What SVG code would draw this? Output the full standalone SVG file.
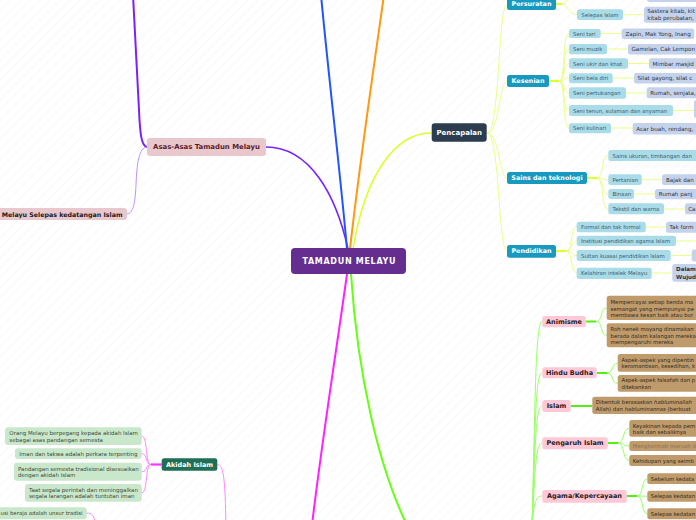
<svg xmlns="http://www.w3.org/2000/svg" width="696" height="520" viewBox="0 0 696 520">
<defs>
<pattern id="bg" width="7" height="7" patternUnits="userSpaceOnUse" patternTransform="rotate(45)">
<line x1="0" y1="0" x2="0" y2="7" stroke="#f1f1f1" stroke-width="1"/>
</pattern>
<style>
text{font-family:"DejaVu Sans",Verdana,sans-serif;dominant-baseline:central}
.b{font-weight:bold}
.c{text-anchor:middle}
.e{text-anchor:end}
.root{fill:#662d91}
.roott{fill:#fff;font-size:8px;font-weight:bold;letter-spacing:.7px}
.asas{fill:#e8c8cc}
.asast{fill:#5c1b2b;font-size:6.9px;font-weight:bold}
.pen{fill:#2b3d4f}
.whitet{fill:#fff;font-size:7px;font-weight:bold}
.teal{fill:#1799c0}
.tealt{fill:#fff;font-size:6.4px;font-weight:bold}
.lb{fill:#a9dbe9}
.lbt{fill:#3e5c6a;font-size:5.4px}
.lv{fill:#c4d2ec}
.lvt{fill:#2d3340;font-size:5.6px}
.pk{fill:#ffc8d6}
.pkt{fill:#2a1a20;font-size:6.5px;font-weight:bold}
.br{fill:#bf9b6b}
.brt{fill:#33291c;font-size:5.35px}
.ak{fill:#1f6e55}
.gr{fill:#c9e7cb}
.grt{fill:#3a4a3a;font-size:5.5px}
.y{fill:none;stroke:#e6ff7a;stroke-width:.9}
.ys{fill:none;stroke:#ddff33;stroke-width:2.2}
.g{fill:none;stroke:#99ff66;stroke-width:1}
.gs{fill:none;stroke:#55ee11;stroke-width:2}
.m{fill:none;stroke:#ff88ff;stroke-width:1}
.ms{fill:none;stroke:#ff33ff;stroke-width:2.2}
</style>
</defs>
<rect x="0" y="0" width="696" height="520" fill="#fff"/>
<rect x="0" y="0" width="696" height="520" fill="url(#bg)"/>

<g id="connectors">
<path d="M348,249 C 336,195 310,147 266,147" fill="none" stroke="#7722ff" stroke-width="1.6"/>
<path d="M147,147 C 141,146 140,132 139,110 C 137,70 135,30 133,-5" fill="none" stroke="#7722ff" stroke-width="2"/>
<path d="M147,147 C 139,148 137,162 136,185 C 135,205 133,213 127,214" fill="none" stroke="#b088ff" stroke-width="0.9"/>
<path d="M347,249 C 340,170 330,90 321,-5" fill="none" stroke="#2255ff" stroke-width="2"/>
<path d="M350,249 C 360,160 372,80 384,-5" fill="none" stroke="#ff9911" stroke-width="2"/>
<path d="M353,249 C 365,175 395,133 431,133" fill="none" stroke="#ddff22" stroke-width="1.5"/>
<path d="M347,274 C 335,360 322,440 312,525" fill="none" stroke="#ff22ff" stroke-width="2"/>
<path d="M351,274 C 358,380 380,470 407,525" fill="none" stroke="#66ff11" stroke-width="2"/>

<path class="y" d="M487,133 C 500,133 498,4 507,4"/>
<path class="y" d="M487,133 C 500,133 499,81 507,81"/>
<path class="y" d="M487,133 C 500,133 499,178 507,178"/>
<path class="y" d="M487,133 C 500,133 498,251 507,251"/>
<path class="ys" d="M556,4 L562,4"/>
<path class="y" d="M562,4 C 568,4 567,-4 568,-10"/>
<path class="y" d="M562,4 C 568,4 568,14.7 577,14.7"/>
<path class="y" d="M623,14.7 L644,14.7"/>
<path class="ys" d="M549,81 L559,81"/>
<path class="y" d="M559,81 C 566,81 562,33.5 569,33.5"/>
<path class="y" d="M559,81 C 566,81 562,49 569,49"/>
<path class="y" d="M559,81 C 566,81 562,63.5 569,63.5"/>
<path class="y" d="M559,81 C 566,81 562,78 569,78"/>
<path class="y" d="M559,81 C 566,81 562,93 569,93"/>
<path class="y" d="M559,81 C 566,81 562,110.5 569,110.5"/>
<path class="y" d="M559,81 C 566,81 562,128 569,128"/>
<path class="y" d="M600.7,33.5 L621.7,33.5 M607,49 L628,49 M628,63.5 L649,63.5 M612.7,78 L634,78 M626,93 L646.7,93 M673,110.5 L694,110.5 M611,128 L632.7,128"/>
<path class="ys" d="M587,178 L597,178"/>
<path class="y" d="M597,178 C 604,178 601,155.5 608,155.5"/>
<path class="y" d="M597,178 C 604,178 601,179.7 608,179.7"/>
<path class="y" d="M597,178 C 604,178 601,194 608,194"/>
<path class="y" d="M597,178 C 604,178 601,209 608,209"/>
<path class="y" d="M641.7,179.7 L662,179.7 M634,194 L655,194 M664,209 L685,209"/>
<path class="ys" d="M556,251 L566,251"/>
<path class="y" d="M566,251 C 573,251 570,227 577,227"/>
<path class="y" d="M566,251 C 573,251 570,241 577,241"/>
<path class="y" d="M566,251 C 573,251 570,255.5 577,255.5"/>
<path class="y" d="M566,251 C 573,251 570,273 577,273"/>
<path class="y" d="M645.7,227 L666,227 M676,241 L696,241 M670.7,255.5 L691.7,255.5 M651.7,273 L672.3,273"/>

<path class="g" d="M532,525 C 535,420 535,321.5 542,321.5"/>
<path class="g" d="M532,525 C 535,440 535,373 542,373"/>
<path class="g" d="M532,525 C 535,460 535,406 542,406"/>
<path class="g" d="M532,525 C 535,480 535,443 542,443"/>
<path class="g" d="M532,525 C 534,505 535,496 542,496"/>
<path class="gs" d="M585.7,321.5 L596,321.5"/>
<path class="g" d="M596,321.5 C 603,321.5 600,308 606.7,308"/>
<path class="g" d="M596,321.5 C 603,321.5 600,335.3 606.7,335.3"/>
<path class="gs" d="M596.7,373 L607,373"/>
<path class="g" d="M607,373 C 614,373 611,363 617.7,363"/>
<path class="g" d="M607,373 C 614,373 611,383.3 617.7,383.3"/>
<path class="gs" d="M570.7,406 L592.3,406"/>
<path class="gs" d="M607.7,443 L618,443"/>
<path class="g" d="M618,443 C 625,443 622,428.3 629.3,428.3"/>
<path class="g" d="M618,443 C 625,443 622,446 629.3,446"/>
<path class="g" d="M618,443 C 625,443 622,460.5 629.3,460.5"/>
<path class="gs" d="M626.7,496 L637,496"/>
<path class="g" d="M637,496 C 644,496 641,478.7 647.3,478.7"/>
<path class="g" d="M637,496 C 644,496 641,496.2 647.3,496.2"/>
<path class="g" d="M637,496 C 644,496 641,513.8 647.3,513.8"/>

<path class="m" d="M217.3,464.5 C 224,464.5 225,480 226,525"/>
<path class="ms" d="M161.7,464.5 L151,464.5"/>
<path class="m" d="M151,464.5 C 145,464.5 148,436 141.7,436"/>
<path class="m" d="M151,464.5 C 145,464.5 148,453.7 141.7,453.7"/>
<path class="m" d="M151,464.5 C 145,464.5 148,471.7 141.7,471.7"/>
<path class="m" d="M151,464.5 C 145,464.5 148,492.8 141.7,492.8"/>
<path class="m" d="M86.7,513 C 92,513 94,516 96,524"/>
</g>

<g id="root"><rect class="root" x="291" y="248" width="115" height="26" rx="4"/><text class="roott c" x="349.3" y="261.5">TAMADUN MELAYU</text></g>

<g id="asas"><rect class="asas" x="147" y="138" width="119" height="18" rx="3"/><text class="asast c" x="206.5" y="147">Asas-Asas Tamadun Melayu</text></g>
<g id="selepas-islam-melayu"><rect class="asas" x="-10" y="208" width="137" height="12" rx="3"/><text class="e b" style="font-size:6.3px;fill:#231a1c" x="122.5" y="214">Melayu Selepas kedatangan Islam</text></g>

<g id="pencapalan"><rect class="pen" x="431.7" y="123.3" width="55" height="18.4" rx="3"/><text class="whitet c" x="459.2" y="132.5">Pencapalan</text></g>

<g id="persuratan"><rect class="teal" x="507" y="-2" width="49" height="12" rx="2.5"/><text class="tealt c" x="531.5" y="3.5">Persuratan</text></g>
<g id="p-top"><rect class="lv" x="647" y="-14" width="60" height="16" rx="2.5"/></g>
<g id="selepas-islam"><rect class="lb" x="577" y="9.3" width="46" height="10.8" rx="2.5"/><text class="lbt c" x="600" y="14.7">Selepas Islam</text></g>
<g id="sastera"><rect class="lv" x="644" y="6.7" width="70" height="16" rx="2.5"/><text class="lvt" x="647.3" y="11">Sastera kitab, kit</text><text class="lvt" x="647.3" y="18.3">kitab perubatan,</text></g>

<g id="kesenian"><rect class="teal" x="507" y="75" width="42" height="12" rx="2.5"/><text class="tealt c" x="528" y="81">Kesenian</text></g>
<g id="seni-tari"><rect class="lb" x="569" y="29" width="31.7" height="9" rx="2.5"/><text class="lbt" x="573" y="33.5">Seni tari</text></g>
<g id="zapin"><rect class="lv" x="621.7" y="28.5" width="72.6" height="10.5" rx="2.5"/><text class="lvt" x="625.5" y="33.7">Zapin, Mak Yong, Inang</text></g>
<g id="seni-muzik"><rect class="lb" x="569" y="44" width="38" height="10.3" rx="2.5"/><text class="lbt" x="573" y="49.2">Seni muzik</text></g>
<g id="gamelan"><rect class="lv" x="628" y="44" width="80" height="10.5" rx="2.5"/><text class="lvt" x="631.5" y="49.2">Gamelan, Cak Lempon</text></g>
<g id="seni-ukir"><rect class="lb" x="569" y="58.3" width="59" height="10.4" rx="2.5"/><text class="lbt" x="573" y="63.5">Seni ukir dan khat</text></g>
<g id="mimbar"><rect class="lv" x="649" y="58.3" width="60" height="10.5" rx="2.5"/><text class="lvt" x="652.5" y="63.5">Mimbar masjid</text></g>
<g id="seni-bela"><rect class="lb" x="569" y="73.3" width="43.7" height="10" rx="2.5"/><text class="lbt" x="573" y="78.3">Seni bela diri</text></g>
<g id="silat"><rect class="lv" x="634" y="73" width="70" height="10.5" rx="2.5"/><text class="lvt" x="637.5" y="78.3">Silat gayong, silat c</text></g>
<g id="seni-pertukangan"><rect class="lb" x="569" y="87.3" width="57" height="11.4" rx="2.5"/><text class="lbt" x="573" y="93">Seni pertukangan</text></g>
<g id="rumah"><rect class="lv" x="646.7" y="87.3" width="60" height="11" rx="2.5"/><text class="lvt" x="650.3" y="92.8">Rumah, senjata,</text></g>
<g id="seni-tenun"><rect class="lb" x="569" y="105" width="104" height="11" rx="2.5"/><text class="lbt" x="573" y="110.5">Seni tenun, sulaman dan anyaman</text></g>
<g id="tenun-leaf"><rect class="lv" x="694" y="100" width="20" height="18" rx="2.5"/></g>
<g id="seni-kulinari"><rect class="lb" x="569" y="123.3" width="42" height="10" rx="2.5"/><text class="lbt" x="573" y="128.3">Seni kulinari</text></g>
<g id="acar"><rect class="lv" x="632.7" y="123" width="75" height="11.5" rx="2.5"/><text class="lvt" x="636.3" y="128.7">Acar buah, rendang,</text></g>

<g id="sains"><rect class="teal" x="507" y="172" width="80" height="12" rx="2.5"/><text class="tealt c" x="547" y="178">Sains dan teknologi</text></g>
<g id="sains-ukuran"><rect class="lb" x="608.3" y="150" width="100" height="11" rx="2.5"/><text class="lbt" x="612.5" y="155.5">Sains ukuran, timbangan dan</text></g>
<g id="pertanian"><rect class="lb" x="608.3" y="174.3" width="33.4" height="10.7" rx="2.5"/><text class="lbt" x="612.5" y="179.7">Pertanian</text></g>
<g id="bajak"><rect class="lv" x="662" y="174.3" width="50" height="10.7" rx="2.5"/><text class="lvt" x="666" y="179.7">Bajak dan</text></g>
<g id="binaan"><rect class="lb" x="608.3" y="189" width="25.7" height="10" rx="2.5"/><text class="lbt" x="612.5" y="194">Binaan</text></g>
<g id="rumah-panjang"><rect class="lv" x="655" y="189" width="50" height="10.3" rx="2.5"/><text class="lvt" x="658.8" y="194.2">Rumah panj</text></g>
<g id="tekstil"><rect class="lb" x="608.3" y="203.3" width="55.7" height="11" rx="2.5"/><text class="lbt" x="612.5" y="208.8">Tekstil dan warna</text></g>
<g id="ca"><rect class="lv" x="685" y="203.3" width="25" height="11" rx="2.5"/><text class="lvt" x="688.2" y="208.8">Ca</text></g>

<g id="pendidikan"><rect class="teal" x="507" y="245" width="49" height="12.7" rx="2.5"/><text class="tealt c" x="531.5" y="251.3">Pendidikan</text></g>
<g id="formal"><rect class="lb" x="576.7" y="221.7" width="69" height="10.6" rx="2.5"/><text class="lbt" x="581" y="227">Formal dan tak formal</text></g>
<g id="tak-formal"><rect class="lv" x="666" y="221.7" width="45" height="11" rx="2.5"/><text class="lvt" x="669.5" y="227.2">Tak form</text></g>
<g id="institusi"><rect class="lb" x="576.7" y="235.7" width="99.3" height="10.3" rx="2.5"/><text class="lbt" x="581" y="240.9">Institusi pendidikan agama Islam</text></g>
<g id="sultan"><rect class="lb" x="576.7" y="250" width="94" height="11" rx="2.5"/><text class="lbt" x="581" y="255.5">Sultan kuasai pendidikan Islam</text></g>
<g id="sultan-leaf"><rect class="lv" x="691.7" y="249.5" width="20" height="12" rx="2.5"/></g>
<g id="kelahiran"><rect class="lb" x="576.7" y="267.7" width="75" height="11.3" rx="2.5"/><text class="lbt" x="581" y="273.3">Kelahiran intelek Melayu</text></g>
<g id="dalam"><rect class="lv" x="672.3" y="264" width="40" height="17.7" rx="2.5"/><text class="lvt b" x="676" y="269.3">Dalam</text><text class="lvt b" x="676" y="276.5">Wujud</text></g>

<g id="animisme"><rect class="pk" x="542.3" y="316" width="43.4" height="11.3" rx="2.5"/><text class="pkt c" x="564" y="321.7">Animisme</text></g>
<g id="mempercayai"><rect class="br" x="606.7" y="295.7" width="100" height="24.3" rx="2.5"/><text class="brt" x="610.5" y="302.4">Mempercayai setiap benda ma</text><text class="brt" x="610.5" y="308.7">semangat yang mempunyai pe</text><text class="brt" x="610.5" y="315">membawa kesan baik atau bur</text></g>
<g id="roh"><rect class="br" x="606.7" y="323.3" width="100" height="24" rx="2.5"/><text class="brt" x="610.5" y="329.2">Roh nenek moyang dinamakan</text><text class="brt" x="610.5" y="335.7">berada dalam kalangan mereka</text><text class="brt" x="610.5" y="342.2">mempengaruhi mereka</text></g>

<g id="hindu-budha"><rect class="pk" x="542.3" y="367.3" width="54.4" height="11" rx="2.5"/><text class="pkt c" x="569.5" y="372.9">Hindu Budha</text></g>
<g id="aspek1"><rect class="br" x="617.7" y="354" width="90" height="17.7" rx="2.5"/><text class="brt" x="621.5" y="360.2">Aspek-aspek yang dipentin</text><text class="brt" x="621.5" y="366.3">keromantisan, kesedihan, k</text></g>
<g id="aspek2"><rect class="br" x="617.7" y="375" width="90" height="16.7" rx="2.5"/><text class="brt" x="621.5" y="380.3">Aspek-aspek falsafah dan p</text><text class="brt" x="621.5" y="386.6">ditekankan</text></g>

<g id="islam"><rect class="pk" x="542.3" y="400" width="28.4" height="12" rx="2.5"/><text class="pkt c" x="556.5" y="406">Islam</text></g>
<g id="dibentuk"><rect class="br" x="592.3" y="396.7" width="115" height="17.3" rx="2.5"/><text class="brt" x="595.8" y="402.4">Dibentuk berasaskan <tspan font-style="italic">habluminallah</tspan></text><text class="brt" x="595.8" y="408.8">Allah) dan <tspan font-style="italic">habluminannas</tspan> (berbuat</text></g>

<g id="pengaruh-islam"><rect class="pk" x="542.3" y="437.3" width="65.4" height="12" rx="2.5"/><text class="pkt c" x="575" y="443.3">Pengaruh Islam</text></g>
<g id="keyakinan"><rect class="br" x="629.3" y="420" width="80" height="16.7" rx="2.5"/><text class="brt" x="632.8" y="425.7">Keyakinan kepada pem</text><text class="brt" x="632.8" y="432.4">baik dan sebaliknya</text></g>
<g id="menghormati"><rect class="br" x="629.3" y="441" width="80" height="10" rx="2.5"/><text class="brt" style="fill:#8a7254" x="632.8" y="446">Menghormati maruah d</text></g>
<g id="kehidupan"><rect class="br" x="629.3" y="455" width="80" height="11" rx="2.5"/><text class="brt" x="632.8" y="460.5">Kehidupan yang seimb</text></g>

<g id="agama"><rect class="pk" x="542.3" y="490" width="84.4" height="12.7" rx="2.5"/><text class="pkt c" x="584.5" y="496.4">Agama/Kepercayaan</text></g>
<g id="sebelum"><rect class="br" x="647.3" y="473.3" width="60" height="10.7" rx="2.5"/><text class="brt" x="650.8" y="478.7">Sebelum kedata</text></g>
<g id="selepas1"><rect class="br" x="647.3" y="490.7" width="60" height="11" rx="2.5"/><text class="brt" x="650.8" y="496.2">Selepas kedatan</text></g>
<g id="selepas2"><rect class="br" x="647.3" y="508.3" width="60" height="11" rx="2.5"/><text class="brt" x="650.8" y="513.8">Selepas kedatan</text></g>

<g id="akidah"><rect class="ak" x="161.7" y="458.3" width="55.6" height="12.4" rx="2.5"/><text class="whitet c" style="font-size:6.5px" x="189.5" y="464.6">Akidah Islam</text></g>
<g id="orang-melayu"><rect class="gr" x="5" y="427.3" width="136.7" height="17.7" rx="3"/><text class="grt" x="9.3" y="433">Orang Melayu berpegang kepada akidah Islam</text><text class="grt" x="9.3" y="439.6">sebagai asas pandangan semesta</text></g>
<g id="iman"><rect class="gr" x="15" y="448.3" width="126.7" height="10.7" rx="3"/><text class="grt" x="19.3" y="453.7">Iman dan takwa adalah perkara terpenting</text></g>
<g id="pandangan"><rect class="gr" x="14" y="462.7" width="127.7" height="18" rx="3"/><text class="grt" x="18" y="468.5">Pandangan semesta tradisional disesuaikan</text><text class="grt" x="18" y="475.2">dengan akidah Islam</text></g>
<g id="taat"><rect class="gr" x="25" y="484" width="116.7" height="17.7" rx="3"/><text class="grt" x="29" y="489.7">Taat segala perintah dan meninggalkan</text><text class="grt" x="29" y="496.4">segala larangan adalah tuntutan iman</text></g>
<g id="beraja"><rect class="gr" x="-10" y="507.3" width="96.7" height="12" rx="3"/><text class="grt e" style="font-size:5.4px" x="82.5" y="513.2">usi beraja adalah unsur tradisi</text></g>
</svg>
